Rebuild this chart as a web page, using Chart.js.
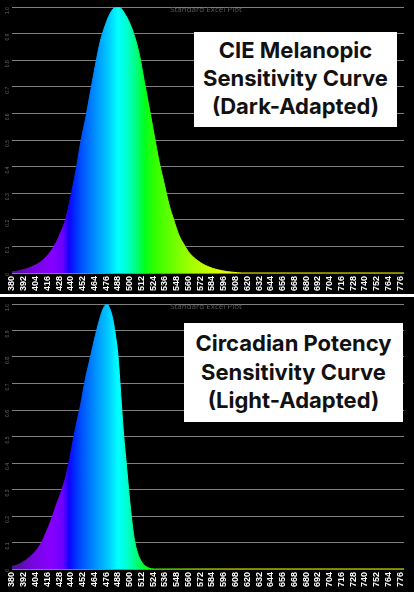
<!DOCTYPE html>
<html>
<head>
<meta charset="utf-8">
<script src="https://cdn.jsdelivr.net/npm/chart.js@4.4.1/dist/chart.umd.min.js"></script>
<style>
  html, body { margin: 0; padding: 0; background: #fff; }
  body { width: 414px; height: 592px; position: relative; overflow: hidden; }
  .panel { position: absolute; left: 0; width: 414px; background: #000; }
  #panelTop { top: 0; height: 294px; }
  #panelBottom { top: 297px; height: 295px; }
  .panel canvas { position: absolute; left: 0; top: 0; }
  .plotTitle { position: absolute; width: 120px; text-align: center; font: 8px "Open Sans", sans-serif; color: #595959; }
  .label { position: absolute; background: #fff; color: #111; font-family: Inter, sans-serif; font-weight: 700; text-align: center; }
</style>
</head>
<body>
<div class="panel" id="panelTop">
  <canvas id="chartTop" width="414" height="294"></canvas>
  <div class="plotTitle" style="left:146px; top:3px;">Standard Excel Plot</div>
  <div class="label" style="left:194px; top:32px; width:203px; height:95px; font-size:22px; line-height:28px; padding-top:4px; box-sizing:border-box;">CIE Melanopic<br>Sensitivity Curve<br>(Dark-Adapted)</div>
</div>
<div class="panel" id="panelBottom">
  <canvas id="chartBottom" width="414" height="295"></canvas>
  <div class="plotTitle" style="left:146px; top:3px;">Standard Excel Plot</div>
  <div class="label" style="left:184px; top:26px; width:219px; height:99px; font-size:22px; line-height:28.5px; padding-top:6px; box-sizing:border-box;">Circadian Potency<br>Sensitivity Curve<br>(Light-Adapted)</div>
</div>

<script>
// Довжини хвиль (нм) і значення
const melanopicNm = [380, 385, 390, 395, 400, 405, 410, 415, 420, 425, 430, 435, 440, 445, 450, 455, 460, 465, 470, 475,
    480, 485, 490, 495, 500, 505, 510, 515, 520, 525, 530, 535, 540, 545, 550, 555, 560, 565, 570, 575,
    580, 585, 590, 595, 600, 605, 610, 615, 650, 700, 780];
const melanopicVal = [0.004, 0.007, 0.011, 0.016, 0.023, 0.032, 0.044, 0.061, 0.084, 0.114, 0.155, 0.205, 0.29, 0.38, 0.49, 0.58, 0.68, 0.78, 0.87, 0.93,
    0.975, 0.997, 0.997, 0.975, 0.94, 0.89, 0.82, 0.72, 0.62, 0.52, 0.42, 0.34, 0.26, 0.2, 0.145, 0.11, 0.08, 0.06, 0.045, 0.033,
    0.024, 0.017, 0.012, 0.008, 0.005, 0.003, 0.001, 0, 0, 0, 0];

const circadianNm = [380, 385, 390, 395, 400, 405, 410, 415, 420, 425, 430, 435, 440, 445, 450, 455, 460, 465, 470, 474,
    477, 480, 483, 486, 488, 490, 492, 494, 496, 498, 500, 502, 504, 506, 508, 510, 513, 516, 520, 525, 600, 700, 780];
const circadianVal = [0.01, 0.015, 0.024, 0.036, 0.052, 0.072, 0.1, 0.14, 0.185, 0.24, 0.29, 0.35, 0.44, 0.535, 0.62, 0.72, 0.8, 0.88, 0.95, 0.99,
    1.0, 0.98, 0.94, 0.87, 0.81, 0.71, 0.6, 0.5, 0.42, 0.34, 0.26, 0.19, 0.13, 0.09, 0.062, 0.042, 0.023, 0.011, 0.003, 0, 0, 0, 0];

const xTickLabels = [380, 392, 404, 416, 428, 440, 452, 464, 476, 488, 500, 512, 524, 536, 548, 560, 572, 584, 596, 608,
    620, 632, 644, 656, 668, 680, 692, 704, 716, 728, 740, 752, 764, 776];

// Кольори спектра для заливки
const spectrumStops = [
    [380, '#4a1490'], [400, '#7406dc'], [420, '#8800ff'], [432, '#6a00ff'], [438, '#1400ff'], [443, '#0024ff'],
    [452, '#0056ff'], [465, '#0090ff'], [478, '#00c8ff'], [488, '#00ffff'], [498, '#00ffc8'], [508, '#00ff70'],
    [515, '#00ff20'], [525, '#30ff00'], [545, '#70ff00'], [565, '#a8ff00'], [590, '#d8ff00'], [620, '#ffff00'], [780, '#ffff00']
];

function spectrumFill(context) {
    const chart = context.chart;
    const x = chart.scales.x;
    if (!chart.chartArea || !x) return '#00ffff';
    const g = chart.ctx.createLinearGradient(x.getPixelForValue(380), 0, x.getPixelForValue(780), 0);
    spectrumStops.forEach(([nm, col]) => g.addColorStop((nm - 380) / 400, col));
    return g;
}

function makeChart(id, nm, val, topPad, xHeight) {
    return new Chart(document.getElementById(id).getContext('2d'), {
        type: 'line',
        data: {
            datasets: [{
                data: nm.map((w, i) => ({ x: w, y: val[i] })),
                fill: 'origin',
                backgroundColor: spectrumFill,
                borderColor: spectrumFill,
                borderWidth: 1,
                pointRadius: 0,
                cubicInterpolationMode: 'monotone'
            }]
        },
        options: {
            responsive: false,
            animation: false,
            layout: { padding: { top: topPad, right: 2, left: 0, bottom: 0 } },
            plugins: { legend: { display: false }, tooltip: { enabled: false } },
            scales: {
                x: {
                    type: 'linear', min: 380, max: 780,
                    afterBuildTicks: s => { s.ticks = xTickLabels.map(v => ({ value: v })); },
                    afterFit: s => { s.height = xHeight; },
                    grid: { display: false, drawTicks: false },
                    border: { display: false },
                    ticks: {
                        autoSkip: false, minRotation: 90, maxRotation: 90, padding: 3,
                        color: '#fff', font: { family: 'Liberation Sans', size: 9, weight: 'bold' }
                    }
                },
                y: {
                    min: 0, max: 1,
                    afterFit: s => { s.width = 12; },
                    grid: { color: '#7f7f7f', lineWidth: 1, drawTicks: false },
                    border: { display: false },
                    ticks: {
                        stepSize: 0.1, minRotation: 90, maxRotation: 90, padding: 4,
                        color: '#6a6a6a', font: { family: 'Liberation Sans', size: 5 }
                    }
                }
            }
        }
    });
}

window.onload = () => {
    makeChart('chartTop', melanopicNm, melanopicVal, 2, 21);
    makeChart('chartBottom', circadianNm, circadianVal, 1, 23);
};
</script>
</body>
</html>
